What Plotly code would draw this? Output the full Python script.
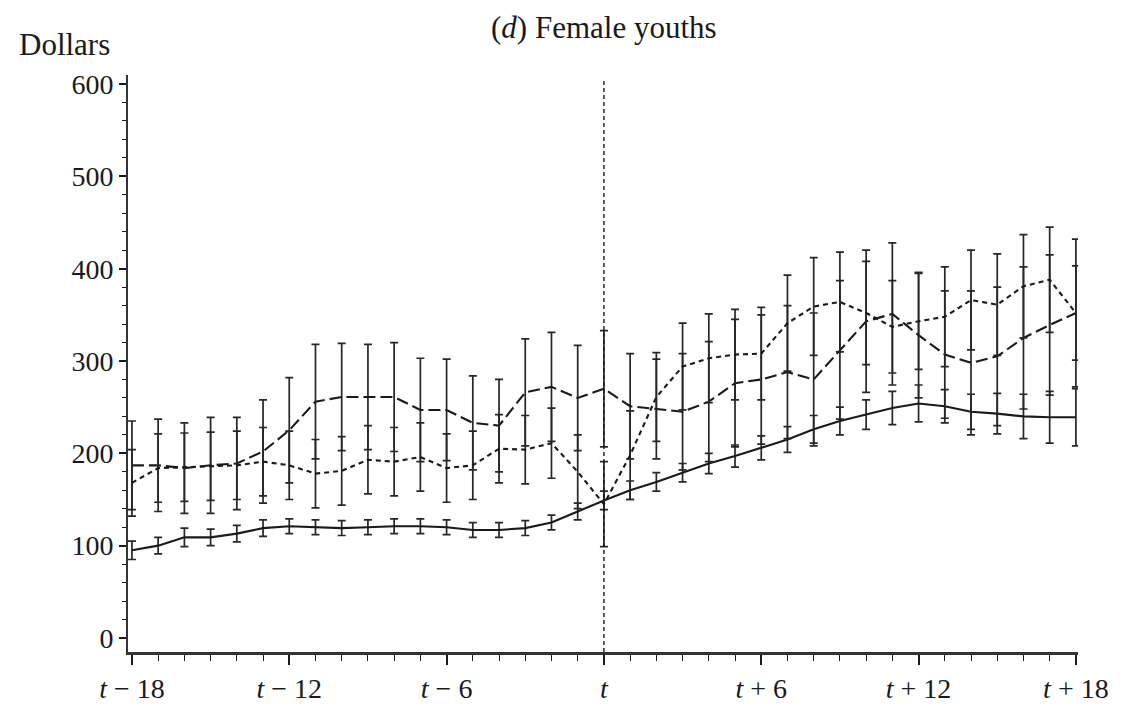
import plotly.graph_objects as go

months = list(range(-18, 19))

solid = [95, 100, 109, 109, 113, 119, 121, 120, 119, 120, 121, 121, 120, 117, 117, 119, 125, 137, 149,
         160, 169, 179, 189, 197, 206, 215, 226, 235, 242, 249, 254, 251, 245, 243, 240, 239, 239]
solid_err = [10, 9, 10, 9, 9, 9, 8, 8, 8, 8, 8, 8, 8, 8, 8, 8, 8, 9, 10,
             10, 10, 10, 11, 12, 13, 14, 15, 15, 16, 18, 20, 18, 19, 22, 24, 28, 31]

long_dash = [187, 187, 184, 187, 189, 202, 225, 256, 261, 261, 261, 247, 247, 233, 230, 266, 272, 260, 270,
             251, 248, 245, 256, 276, 280, 288, 280, 312, 343, 351, 328, 307, 298, 305, 325, 339, 352]
long_err = [48, 50, 49, 52, 50, 56, 57, 62, 58, 57, 59, 56, 55, 51, 50, 58, 59, 57, 63,
            57, 54, 63, 65, 69, 70, 72, 72, 75, 77, 77, 68, 69, 78, 75, 77, 76, 51]

short_dash = [168, 184, 185, 186, 187, 191, 187, 178, 181, 193, 191, 196, 184, 187, 205, 204, 211, 180, 145,
              198, 261, 294, 303, 307, 308, 341, 359, 364, 352, 337, 343, 348, 366, 361, 381, 388, 352]
short_err = [36, 37, 37, 37, 37, 37, 37, 37, 37, 37, 37, 37, 37, 37, 37, 37, 38, 40, 46,
             48, 48, 47, 48, 49, 50, 52, 53, 54, 56, 50, 52, 54, 54, 55, 56, 57, 80]

x_tickvals = [-18, -12, -6, 0, 6, 12, 18]
x_ticktext = ["<i>t</i> − 18", "<i>t</i> − 12", "<i>t</i> − 6", "<i>t</i>",
              "<i>t</i> + 6", "<i>t</i> + 12", "<i>t</i> + 18"]

FONT = "Liberation Serif, Times New Roman, serif"
INK = "#1a1a1a"

fig = go.Figure()

def add_series(y, err, dash):
    fig.add_trace(go.Scatter(
        x=months, y=y, mode="lines",
        line=dict(color=INK, width=2.1, dash=dash),
        error_y=dict(type="data", array=err, visible=True, width=4, thickness=1.7, color="#262626"),
        showlegend=False,
    ))

add_series(solid, solid_err, "solid")
add_series(long_dash, long_err, "12px,5px")
add_series(short_dash, short_err, "5px,4px")

fig.add_shape(type="line", xref="x", yref="paper", x0=0, x1=0, y0=0, y1=0.995,
              line=dict(color=INK, width=1.4, dash="4px,3px"))

fig.add_annotation(x=0, xref="x", y=1.0815, yref="paper", text="(<i>d</i>) Female youths",
                   showarrow=False, xanchor="center", yanchor="middle",
                   font=dict(family=FONT, size=31, color=INK))
fig.add_annotation(x=-0.1168, xref="paper", y=1.052, yref="paper", text="Dollars",
                   showarrow=False, xanchor="left", yanchor="middle",
                   font=dict(family=FONT, size=31, color=INK))

fig.update_layout(
    width=1114, height=702, autosize=False,
    margin=dict(l=120, r=44, t=67, b=58, pad=0),
    plot_bgcolor="white", paper_bgcolor="white",
    font=dict(family=FONT, size=28, color=INK),
    xaxis=dict(
        range=[-18.15, 18.08], tickmode="array", tickvals=x_tickvals, ticktext=x_ticktext,
        ticks="outside", ticklen=10, tickwidth=1.6, tickcolor=INK, automargin=False,
        showline=True, linewidth=2.5, linecolor="#333", showgrid=False, zeroline=False,
        minor=dict(dtick=1, tick0=0, ticks="outside", ticklen=6, tickwidth=1.2, tickcolor=INK, showgrid=False),
        tickfont=dict(family=FONT, size=28, color=INK),
    ),
    yaxis=dict(
        range=[-15.2, 609.8], tick0=0, dtick=100, automargin=False,
        ticks="outside", ticklen=7, tickwidth=1.6, tickcolor=INK,
        showline=True, linewidth=2, linecolor="#333", showgrid=False, zeroline=False,
        minor=dict(dtick=20, tick0=0, ticks="outside", ticklen=4, tickwidth=1.2, tickcolor=INK, showgrid=False),
        tickfont=dict(family=FONT, size=28, color=INK),
    ),
)

fig.write_html("out.html")
